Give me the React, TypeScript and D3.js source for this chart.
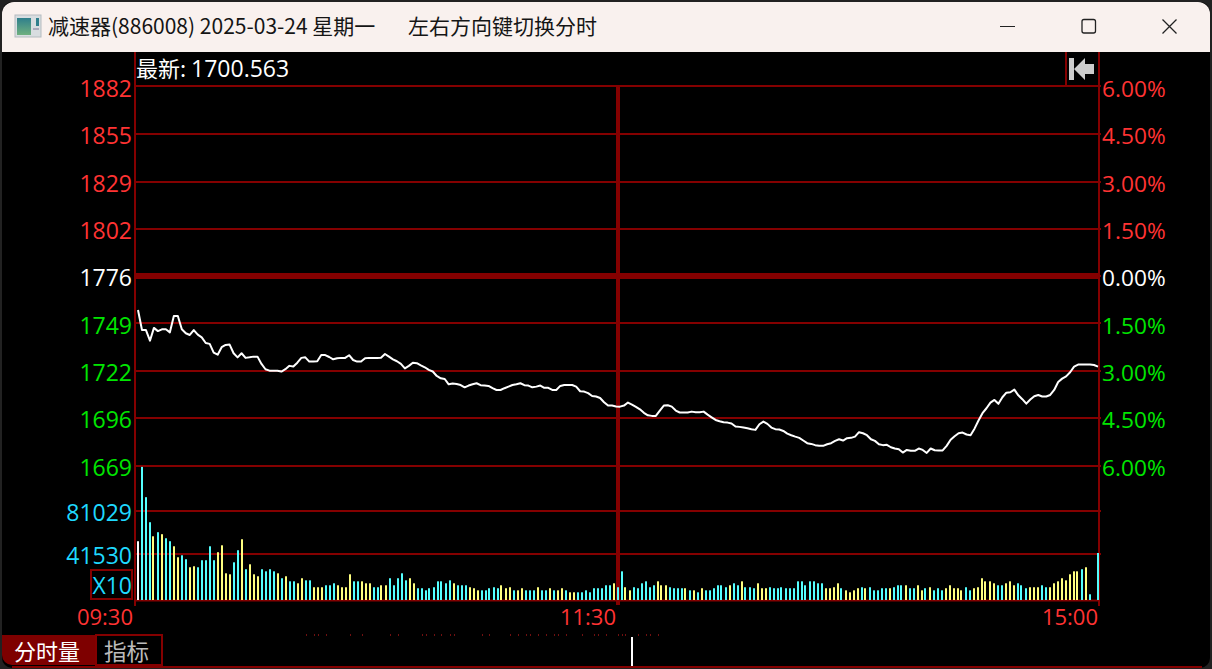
import React from "react";
import * as d3 from "d3";

const PRE_CLOSE = 1776;
const priceTicks = [1882, 1855, 1829, 1802, 1776, 1749, 1722, 1696, 1669];
const pctValues = [6, 4.5, 3, 1.5, 0, -1.5, -3, -4.5, -6];
const pctTicks = ["6.00%", "4.50%", "3.00%", "1.50%", "0.00%", "1.50%", "3.00%", "4.50%", "6.00%"];
const volTicks = [81029, 41530];
const timeLabels = ["09:30", "11:30", "15:00"];

const prices = [
  1757.4,1746.1,1746.1,1740.1,1747.3,1745.5,1746.5,1746.5,1744.8,1754.0,1754.0,1746.5,1744.3,1743.3,1746.1,1743.5,1742.0,1738.8,1738.3,1733.4,
  1732.2,1736.4,1737.7,1737.9,1733.0,1730.7,1733.0,1730.4,1730.7,1731.1,1731.1,1727.0,1724.0,1723.2,1723.2,1723.2,1722.7,1724.0,1725.9,1725.5,
  1727.7,1730.4,1730.7,1728.3,1728.3,1728.5,1732.0,1732.0,1730.9,1729.6,1730.2,1730.4,1730.4,1731.9,1729.2,1728.3,1728.3,1730.2,1730.4,1730.4,
  1730.4,1730.5,1732.6,1731.1,1729.6,1728.5,1727.0,1724.5,1725.9,1727.7,1727.4,1726.2,1725.1,1723.6,1722.7,1720.2,1718.9,1718.5,1715.5,1715.9,
  1715.7,1715.1,1713.8,1714.8,1715.5,1716.1,1715.0,1714.8,1714.6,1713.3,1712.3,1712.3,1713.3,1714.2,1715.1,1715.5,1716.1,1715.0,1714.8,1713.8,
  1714.2,1714.8,1713.5,1713.5,1712.3,1712.3,1714.6,1715.1,1715.1,1715.1,1714.2,1711.6,1711.4,1710.5,1708.9,1708.6,1707.8,1705.4,1703.5,1703.5,
  1703.0,1702.9,1703.5,1705.2,1704.1,1702.8,1701.4,1699.4,1698.0,1697.7,1697.7,1700.7,1703.5,1703.7,1702.9,1700.7,1699.6,1699.6,1699.6,1700.1,
  1699.8,1699.8,1700.1,1698.4,1696.9,1695.4,1694.7,1694.1,1693.9,1693.4,1691.7,1691.5,1691.1,1690.7,1690.2,1689.8,1693.0,1694.5,1693.2,1691.1,
  1690.2,1690.0,1689.2,1687.7,1686.8,1686.0,1685.3,1683.8,1682.3,1681.9,1681.2,1680.8,1680.8,1681.7,1682.3,1683.6,1684.5,1683.8,1685.1,1685.3,
  1686.0,1688.5,1687.9,1686.8,1684.5,1683.6,1681.7,1681.2,1681.4,1680.0,1679.3,1678.9,1677.0,1678.5,1678.0,1678.0,1679.3,1678.5,1676.8,1679.3,
  1678.3,1678.2,1678.2,1680.8,1684.2,1686.2,1687.9,1688.3,1687.2,1686.8,1690.5,1695.1,1699.2,1702.0,1705.2,1706.7,1704.5,1708.2,1710.8,1711.0,
  1712.5,1709.3,1707.1,1704.6,1706.9,1708.8,1709.5,1708.6,1708.6,1709.5,1712.3,1716.8,1718.7,1720.0,1722.3,1725.5,1726.6,1726.6,1726.6,1726.6,
  1726.4,1725.5,
];

// volume in thousands
const volumes = [
  53.5,121.2,93.6,70.8,58,61.7,59.9,56.2,53.5,48.9,38.9,40.7,37.1,29.8,30.7,29.8,36.2,36.2,48.9,36.2,
  43.5,49.8,24.3,23.4,34.3,45.3,55.3,28,32.5,23.4,21.6,28,26.1,28,26.1,24.3,19.8,21.6,17,17,
  15.2,19.8,17.9,17.9,11.6,11.6,11.6,13.4,13.4,15.2,13.4,11.6,11.6,23.4,17,17,
  17,15.2,15.2,11.6,11.6,13.4,13.4,19.8,13.4,19.8,24.3,17.9,19.8,15.2,10.7,10.7,8.8,10.7,11.6,17,
  17,15.2,17.9,15.2,13.4,13.4,13.4,11.6,10.7,8.8,8.8,8.8,10.7,11.6,10.7,13.4,10.7,11.6,8.8,8.8,
  10.7,8.8,8.8,8.8,11.6,8.8,8.8,10.7,8.8,8.8,10.7,8.8,7,7,7,7,8.8,7,10.7,10.7,
  10.7,13.4,13.4,15.2,11.6,26.1,11.6,8.8,11.6,10.7,15.2,17,11.6,13.4,17,13.4,13.4,11.6,10.7,10.7,
  10.7,10.7,8.8,8.8,7,10.7,8.8,8.8,10.7,13.4,13.4,11.6,13.4,
  15.2,13.4,17,11.6,11.6,10.7,15.2,10.7,10.7,11.6,10.7,10.7,11.6,10.7,10.7,10.7,17,17,13.4,17,
  17,15.2,15.2,10.7,10.7,11.6,15.2,10.7,8.8,7,8.8,10.7,11.6,10.7,11.6,8.8,8.8,10.7,10.7,10.7,
  11.6,13.4,13.4,13.4,10.7,10.7,13.4,8.8,10.7,11.6,8.8,10.7,8.8,10.7,13.4,10.7,10.7,8.8,11.6,8.8,
  10.7,11.6,19.8,17,17,15.2,13.4,13.4,15.2,17,13.4,15.2,13.4,10.7,11.6,11.6,11.6,13.4,11.6,11.6,
  15.2,17,19.8,17.9,23.4,26.1,26.1,28,29.8,5.2,0,42.8,
];

// w = white, c = cyan, y = yellow
const sideList = [
  "w","c","c","c","y","c","y","c","c","y","y","c","c","y","y","c","c","c","c","c","y","y","y","y","c","c","y","c","y","y","y","c","c","c","c","y","c","y","c","c","y","y","c","c","y","y","y","c","c","c","y","y","y","y","c","c",
  "y","y","y","c","c","y","y","c","c","c","c","c","y","y","c","c","c","c","c","c","c","c","c","y","c","c","c","y","y","y","c","c","c","c","c","y","y","y","c","y","y","c","c","c","y","c","c","y","c","y","y","c","y","y","c","c","c","c","c","c","c","c","c","y","c","c","y","y","c","c","c","c","c","c","y","y","y","c","c","c","c","y","c","y","c","y","c","c","c","c","c","c","y",
  "c","c","y","c","c","c","y","y","y","c","c","c","c","c","c","c","c","c","c","c","c","c","c","y","y","y","y","c","y","y","y","y","c","y","c","c","c","c","c","y","c","c","c","y","c","c","y","y","c","y","c","c","c","y","y","y","y","y","c","c","y","y","y","y","y","y","c","c","y","y","y","c","c","c","y","y","y","c","c","y","y","y","y","y","y","y","y","c","y","c","c","c",
];

// minutes at which the small marks under the chart sit
const dotMinutes = [42,44,45,47,53,56,63,65,71,72,74,76,78,79,86,88,93,95,97,98,100,102,104,105,107,111,114,115,117,120,121,122,125,127,128,130];

const GRID = "#840000";
const RED = "#FF3333";
const GREEN = "#00E600";
const CYAN = "#1FD9FF";
const FONT = "'Open Sans','Noto Sans CJK SC',sans-serif";
const CJK = "'Noto Sans CJK SC','Open Sans',sans-serif";

const L = 135;
const R = 1099;
const MID = 618;
const BASE = 600;

const gridRows = [86, 134, 182, 229, 276, 323, 371, 418, 466];

const yPrice = d3.scaleLinear().domain([PRE_CLOSE * 1.06, PRE_CLOSE * 0.94]).range([88, 466]);
const yPct = d3.scaleLinear().domain(pctValues).range(gridRows);
const yLabel = d3.scaleLinear().domain([6, -6]).range([97, 475.5]);
const yVol = d3.scaleLinear().domain([0, 81029]).range([BASE, 511]);
const xBar = d3.scaleLinear().domain([0, 240]).range([137.5, 1097.5]);
const xLine = d3.scaleLinear().domain([0, prices.length - 1]).range([138, 1098]);

const linePath = d3
  .line<number>()
  .x((_, i) => xLine(i))
  .y((d) => yPrice(d))(prices) as string;

const gridYs = [...pctValues.map((p) => yPct(p)), ...volTicks.map((v) => Math.round(yVol(v)))];

function priceColor(i: number) {
  return i < 4 ? RED : i === 4 ? "#fff" : GREEN;
}

export default function App() {
  return (
    <svg
      width={1212}
      height={669}
      style={{ position: "fixed", left: 0, top: 0, display: "block", background: "#222" }}
    >
      <defs>
        <linearGradient id="ico" x1="0" y1="0" x2="0" y2="1">
          <stop offset="0" stopColor="#2f7f8c" />
          <stop offset="1" stopColor="#6fb07f" />
        </linearGradient>
      </defs>
      {/* window */}
      <rect x={2} y={2} width={1208} height={666} rx={10} fill="#000" />
      <path d="M2 52V14a12 12 0 0 1 12-12H1198a12 12 0 0 1 12 12V52Z" fill="#F9F1EE" />
      {/* title icon */}
      <rect x={15} y={15} width={26} height={22} fill="#d8dde0" stroke="#b5bcc0" />
      <rect x={17} y={18} width={14} height={17} fill="url(#ico)" />
      <rect x={36} y={18} width={3} height={8} fill="#2f7f8c" />
      <rect x={33} y={28} width={6} height={2} fill="#aab" />
      <text x={48} y={34} fontFamily={CJK} fontSize={21} fill="#151515">减速器(886008) 2025-03-24 星期一</text>
      <text x={408} y={34} fontFamily={CJK} fontSize={21} fill="#151515">左右方向键切换分时</text>
      {/* window buttons */}
      <rect x={1000} y={26} width={15} height={1} fill="#222" />
      <rect x={1082} y={19.5} width={13.5} height={13.5} rx={2} fill="none" stroke="#222" strokeWidth={1.3} />
      <path d="M1162.5 19.5L1176.5 33.5M1176.5 19.5L1162.5 33.5" stroke="#222" strokeWidth={1.3} />

      {/* grid */}
      {gridYs.map((y, i) => (
        <rect key={i} x={L} y={y - 1} width={R - L + 2} height={2} fill={GRID} />
      ))}
      <rect x={L} y={273} width={R - L} height={6} fill={GRID} />
      <rect x={L} y={BASE - 0.5} width={R - L} height={2} fill={GRID} />
      <rect x={L - 1} y={52} width={2} height={554} fill={GRID} />
      <rect x={R - 1} y={52} width={2} height={554} fill={GRID} />
      <rect x={MID - 2} y={86} width={4} height={519} fill={GRID} />
      <rect x={1065} y={52} width={2} height={34} fill={GRID} />
      {/* return arrow */}
      <path d="M1069 58h5v22h-5ZM1074 69L1085 58V64H1094V74H1085V80Z" fill="#cccccc" />

      <text x={136} y={76.5} fontFamily={CJK} fontSize={22} fill="#fff">
        最新: <tspan fontFamily={FONT} fontSize={23}>1700.563</tspan>
      </text>

      {/* axis labels */}
      {priceTicks.map((p, i) => (
        <text key={p} x={132} y={yLabel(pctValues[i])} textAnchor="end" fontFamily={FONT} fontSize={23} fill={priceColor(i)}>
          {p}
        </text>
      ))}
      {pctTicks.map((t, i) => (
        <text key={i} x={1102} y={yLabel(pctValues[i])} fontFamily={FONT} fontSize={22.7} fill={priceColor(i)}>
          {t}
        </text>
      ))}
      {volTicks.map((v) => (
        <text key={v} x={132} y={yVol(v) + 9.5} textAnchor="end" fontFamily={FONT} fontSize={23} fill={CYAN}>
          {v}
        </text>
      ))}
      <rect x={91} y={570} width={41} height={29} fill="none" stroke={GRID} strokeWidth={2} />
      <text x={132} y={593.5} textAnchor="end" fontFamily={FONT} fontSize={23} fill={CYAN}>X10</text>

      {/* volume */}
      {volumes.map((v, i) =>
        v > 0 ? (
          <rect
            key={i}
            x={Math.round(xBar(i)) - 1}
            y={yVol(v * 1000)}
            width={2}
            height={BASE - yVol(v * 1000)}
            fill={sideList[i] === "w" ? "#fff" : sideList[i] === "y" ? "#FFFF80" : "#55FFFF"}
          />
        ) : null
      )}

      {/* price line */}
      <path d={linePath} fill="none" stroke="#fff" strokeWidth={2} strokeLinejoin="round" />

      {/* time labels */}
      <text x={133} y={625} textAnchor="end" fontFamily={FONT} fontSize={22} fill={RED}>{timeLabels[0]}</text>
      <text x={616} y={625} textAnchor="end" fontFamily={FONT} fontSize={22} fill={RED}>{timeLabels[1]}</text>
      <text x={1098} y={625} textAnchor="end" fontFamily={FONT} fontSize={22} fill={RED}>{timeLabels[2]}</text>

      {dotMinutes.map((m) => (
        <rect key={m} x={Math.round(xBar(m))} y={634} width={1} height={2} fill="#701010" />
      ))}

      {/* tabs */}
      <path d="M2 635H96V665H12a10 10 0 0 1-10-10Z" fill="#7E0000" />
      <rect x={96} y={635} width={66} height={30} fill="#000" stroke={GRID} strokeWidth={2} />
      <text x={14} y={659.5} fontFamily={CJK} fontSize={22} fill="#fff">分时量</text>
      <text x={104} y={659.5} fontFamily={CJK} fontSize={22.5} fill="#bbb">指标</text>
      <rect x={631} y={637} width={2} height={30} fill="#fff" />
      <rect x={12} y={666} width={1190} height={2} fill={GRID} />
    </svg>
  );
}
